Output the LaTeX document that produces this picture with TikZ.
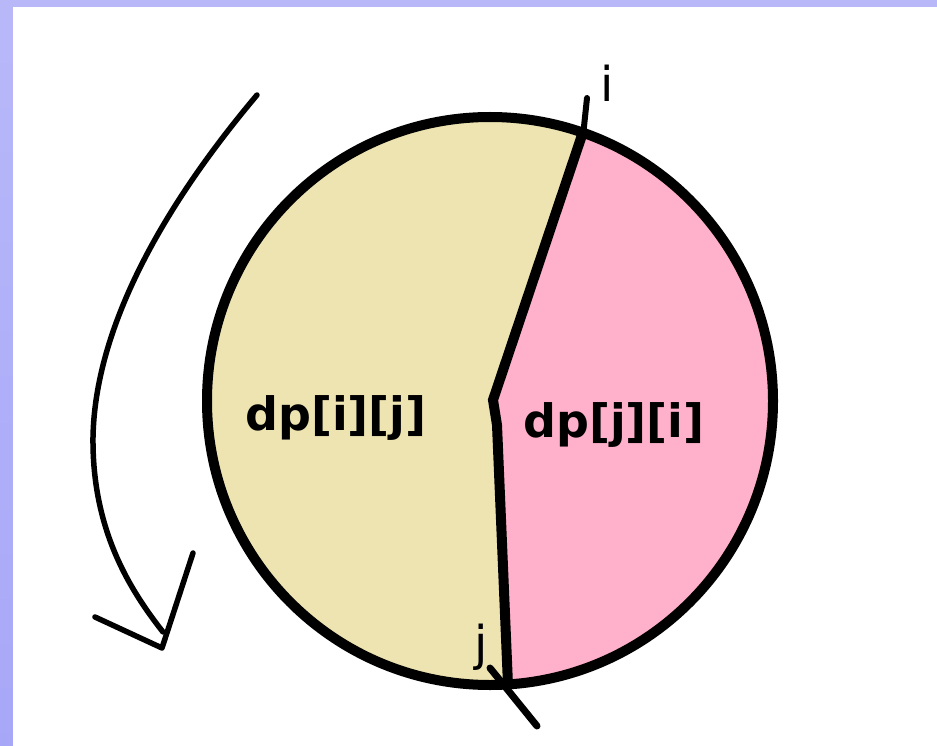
\documentclass[tikz,border=0pt]{standalone}
\usepackage{fontspec}
\setmainfont{DejaVu Sans}
\definecolor{bgblue}{RGB}{176,176,248}
\definecolor{tanfill}{RGB}{238,228,178}
\definecolor{pinkfill}{RGB}{255,176,202}
\tikzset{
  outline/.style={line width=10pt, line join=round},
  divider/.style={line width=10pt, line join=miter},
  sketch/.style={line width=5.5pt, line cap=round, line join=round},
  biglabel/.style={font=\fontsize{46}{50}\selectfont\bfseries, inner sep=0pt},
  smalllabel/.style={font=\fontsize{48}{52}\selectfont, inner sep=0pt}
}
\begin{document}
\begin{tikzpicture}[x=1pt,y=-1pt]
\useasboundingbox (0,0) rectangle (937,746);
\fill[top color=bgblue!90!white, bottom color=bgblue!95!blue] (0,0) rectangle (937,746);
\fill[white] (13,7) rectangle (937,746);
% coordinates
\coordinate (c) at (490,401);
\coordinate (top) at (582,135);
\coordinate (k2) at (493,400);
\coordinate (k3) at (497,425);
\coordinate (bot) at (508,685);
% regions
\fill[tanfill] (c) ellipse [x radius=283, y radius=284];
\begin{scope}
  \clip (c) ellipse [x radius=283, y radius=284];
  \fill[pinkfill] (594,100) -- (k2) -- (k3) -- (510,730) -- (800,730) -- (800,100) -- cycle;
\end{scope}
\draw[outline] (c) ellipse [x radius=283, y radius=284];
% divider
\draw[divider] (top) -- (k2) -- (k3) -- (bot);
\coordinate (stubA) at (587,98);
\coordinate (stubB) at (583,136);
\draw[line width=6pt, line cap=round] (stubA) -- (stubB);
\coordinate (slashA) at (490,668);
\coordinate (slashB) at (537,726);
\draw[line width=7pt, line cap=round] (slashA) -- (slashB);
% labels
\node[biglabel] (dpij) at (336,418) {dp[i][j]};
\node[biglabel] (dpji) at (614,425) {dp[j][i]};
\node[smalllabel, anchor=base] (li) at (607,102) {i};
\node[smalllabel, anchor=base] (lj) at (481,660) {j};
% arrow
\coordinate (a0) at (257,95);
\coordinate (amid) at (93,437);
\coordinate (aend) at (163,632);
\draw[sketch] (a0) .. controls (160,210) and (95,330) .. (amid)
  .. controls (92,530) and (130,590) .. (aend);
\coordinate (hl) at (95,617);
\coordinate (tip) at (162,648);
\coordinate (hr) at (193,553);
\draw[sketch] (hl) -- (tip) -- (hr);
\end{tikzpicture}
\end{document}
